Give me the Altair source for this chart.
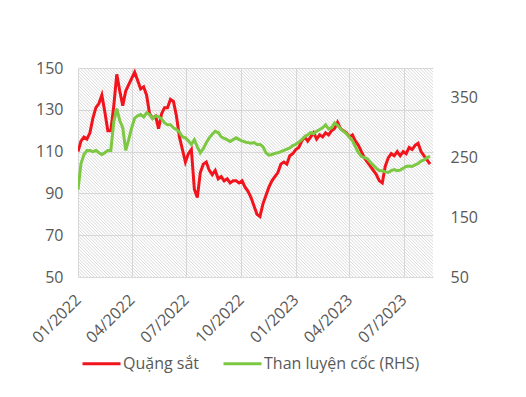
import altair as alt
import pandas as pd

# 5-day spaced observation dates, 2022-01-01 .. 2023-08-14
dates = pd.date_range("2022-01-01", periods=119, freq="5D")

iron_ore = [110, 115, 117, 116, 119, 126, 131, 133, 137, 129,
            120, 120, 132, 147, 139, 132, 139, 142, 145, 148,
            144, 140, 141, 137, 128, 126, 127, 121, 128, 131,
            131, 135, 134, 127, 117, 111, 105, 109, 111, 92,
            88, 100, 104, 105, 101, 99, 101, 97, 98, 96,
            97, 95, 96, 96, 95, 96, 93, 91, 88, 84,
            80, 79, 85, 89, 93, 96, 98, 100, 104, 105,
            104, 108, 109, 111, 112, 115, 117, 115, 117, 119,
            116, 118, 117, 119, 118, 120, 121, 124, 121, 120,
            119, 117, 118, 115, 113, 110, 107, 105, 103, 101,
            99, 96, 95, 103, 107, 109, 108, 110, 108, 110,
            109, 112, 111, 113, 114, 110, 108, 106, 104]

coking_coal = [196, 240, 255, 262, 262, 260, 262, 258, 255, 258,
               262, 262, 310, 332, 312, 300, 262, 280, 300, 316,
               320, 322, 318, 325, 322, 315, 320, 318, 315, 308,
               305, 305, 300, 297, 293, 285, 283, 278, 272, 280,
               268, 258, 265, 275, 283, 289, 294, 292, 285, 282,
               280, 277, 280, 283, 280, 278, 276, 275, 274, 275,
               272, 272, 268, 258, 254, 255, 257, 258, 260, 262,
               264, 266, 270, 272, 276, 280, 285, 288, 292, 290,
               294, 297, 300, 305, 298, 300, 308, 304, 298, 294,
               290, 284, 278, 268, 258, 252, 250, 248, 242, 237,
               232, 228, 228, 226, 225, 228, 230, 228, 229, 232,
               235, 236, 235, 238, 240, 244, 246, 250, 252]

series_names = ["Quặng sắt", "Than luyện cốc (RHS)"]
series_colors = ["#F2141C", "#7DC843"]

x_start = "2022-01-01"
x_end = "2023-08-19"
tick_dates = ["2022-01-01", "2022-04-01", "2022-07-01", "2022-10-01",
              "2023-01-01", "2023-04-01", "2023-07-01"]
left_ticks = [50, 70, 90, 110, 130, 150]
right_ticks = [50, 150, 250, 350]

W, H = 355, 209

ore_df = pd.DataFrame({"date": dates, "v": iron_ore, "series": series_names[0]})
coal_df = pd.DataFrame({"date": dates, "v": coking_coal, "series": series_names[1]})

# decorative diagonal hatch (background texture), drawn through the scales
days_total = (pd.Timestamp(x_end) - pd.Timestamp(x_start)).days
days_per_px = days_total / W
t0 = pd.Timestamp(x_start)
hx, hx2 = [], []
k = 0
while True:
    off = -H + k * 3.2
    if off > W:
        break
    hx.append(t0 + pd.Timedelta(days=off * days_per_px))
    hx2.append(t0 + pd.Timedelta(days=(off + H) * days_per_px))
    k += 1
hatch_df = pd.DataFrame({"x": hx, "x2": hx2, "y": 150, "y2": 50})

FONT = "Open Sans"
TXT = "#595959"

xscale = alt.Scale(domain=[x_start, x_end])
xaxis = alt.Axis(values=[pd.Timestamp(d).isoformat() for d in tick_dates],
                 format="%m/%Y", labelAngle=-45, labelAlign="right",
                 labelBaseline="middle", labelPadding=20, ticks=False,
                 labelOverlap=False, labelBound=False,
                 domain=False, grid=True, gridColor="#d9d9d9", title=None,
                 labelFontSize=16, labelColor=TXT, labelFont=FONT)

left_scale = alt.Scale(domain=[50, 150], nice=False, zero=False)
right_scale = alt.Scale(domain=[50, 400], nice=False, zero=False)
left_axis = alt.Axis(values=left_ticks, ticks=False, domain=False,
                     grid=True, gridColor="#d9d9d9", title=None,
                     labelFontSize=16, labelColor=TXT, labelFont=FONT,
                     labelPadding=15)

background = alt.Chart(hatch_df).mark_rule(
    color="#cfcfcf", strokeWidth=0.8, clip=True
).encode(
    x=alt.X("x:T", scale=xscale, axis=xaxis),
    x2="x2:T",
    y=alt.Y("y:Q", scale=left_scale, axis=left_axis),
    y2="y2:Q",
)

color_scale = alt.Scale(domain=series_names, range=series_colors)

ore_line = alt.Chart(ore_df).mark_line(strokeWidth=3, clip=True).encode(
    x=alt.X("date:T", scale=xscale, axis=xaxis),
    y=alt.Y("v:Q", scale=left_scale, axis=left_axis),
    color=alt.Color("series:N", scale=color_scale, legend=alt.Legend(title=None)),
)

coal_line = alt.Chart(coal_df).mark_line(strokeWidth=3, clip=True).encode(
    x=alt.X("date:T", scale=xscale, axis=xaxis),
    y=alt.Y("v:Q", scale=right_scale,
            axis=alt.Axis(orient="right", values=right_ticks, ticks=False,
                          domain=False, grid=False, title=None,
                          labelFontSize=16, labelColor=TXT, labelFont=FONT,
                          labelPadding=17)),
    color=alt.Color("series:N", scale=color_scale, legend=alt.Legend(title=None)),
)

left_layer = alt.layer(background, ore_line)
chart = alt.layer(left_layer, coal_line).resolve_scale(y="independent").properties(
    width=W, height=H,
    autosize=alt.AutoSizeParams(type="none"),
    padding={"left": 70, "top": 60, "right": 85, "bottom": 112},
).configure_view(stroke=None).configure_legend(
    orient="none", legendX=3, legendY=275, direction="horizontal",
    symbolType="stroke", symbolSize=1444, symbolStrokeWidth=3,
    labelFontSize=16, labelFont=FONT, labelColor=TXT, labelOffset=1,
    columnPadding=17, padding=0, labelLimit=300,
)

chart.save("out.html", embed_options={"renderer": "svg", "actions": False})
